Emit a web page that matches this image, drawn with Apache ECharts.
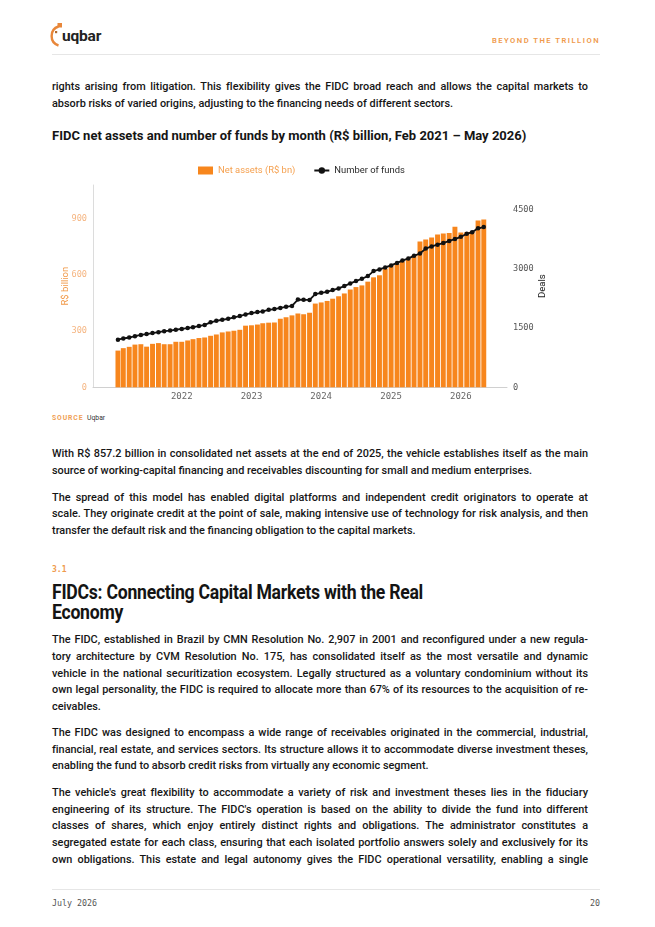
<!DOCTYPE html>
<html>
<head>
<meta charset="utf-8">
<script src="https://cdn.jsdelivr.net/npm/echarts@6/dist/echarts.min.js"></script>
<style>
  html, body { margin: 0; padding: 0; background: #fff; }
  body { width: 655px; height: 927px; position: relative; overflow: hidden; font-family: Roboto, "Liberation Sans", sans-serif; color: #161616; }
  .abs { position: absolute; }
  .p { position: absolute; left: 52px; width: 536px; font-size: 10.9px; font-weight: 500; }
  .p div { white-space: nowrap; text-align: justify; text-align-last: justify; }
  .p div.l { text-align: left; text-align-last: left; }
  .mono { font-family: "DejaVu Sans Mono", monospace; }
</style>
</head>
<body>
<!-- header -->
<svg class="abs" style="left:50px;top:21px" width="14" height="28" viewBox="0 0 14 28">
  <path d="M8.5 5.5 A10 10 0 0 0 8.5 24.5" fill="none" stroke="#e8873a" stroke-width="2.4"/>
  <rect x="7.5" y="2" width="4.5" height="4.5" fill="#e8873a"/>
  <rect x="5" y="10" width="2.2" height="2.2" fill="#b06a30"/>
</svg>
<div class="abs" style="left:62px;top:26px;font-size:15.5px;font-weight:700;line-height:20px;color:#222;letter-spacing:-0.2px">uqbar</div>
<div class="abs" style="right:55px;top:36px;font-size:7.6px;font-weight:600;letter-spacing:1.5px;color:#ef9a4c;line-height:10px">BEYOND THE TRILLION</div>
<div class="abs" style="left:52px;top:54px;width:548px;height:1px;background:#e6e6e6"></div>

<div class="p" style="top:79px;line-height:16.5px">
  <div>rights arising from litigation. This flexibility gives the FIDC broad reach and allows the capital markets to</div>
  <div class="l">absorb risks of varied origins, adjusting to the financing needs of different sectors.</div>
</div>

<div class="abs" style="left:52px;top:128px;font-size:13px;font-weight:700;line-height:16px;color:#151515">FIDC net assets and number of funds by month (R$ billion, Feb 2021 – May 2026)</div>

<div id="chart" class="abs" style="left:0;top:150px;width:655px;height:260px"></div>

<div class="abs" style="left:52px;top:414px;line-height:9px;font-size:6.8px">
  <span style="color:#f0a055;font-weight:700;letter-spacing:0.9px">SOURCE</span>
  <span style="color:#333;margin-left:2px">Uqbar</span>
</div>

<div class="p" style="top:445px;line-height:17px">
  <div>With R$ 857.2 billion in consolidated net assets at the end of 2025, the vehicle establishes itself as the main</div>
  <div class="l">source of working-capital financing and receivables discounting for small and medium enterprises.</div>
</div>

<div class="p" style="top:490px;line-height:16.3px">
  <div>The spread of this model has enabled digital platforms and independent credit originators to operate at</div>
  <div>scale. They originate credit at the point of sale, making intensive use of technology for risk analysis, and then</div>
  <div class="l">transfer the default risk and the financing obligation to the capital markets.</div>
</div>

<div class="abs mono" style="left:52px;top:565px;line-height:10px;font-size:8px;font-weight:700;color:#ef9a4c">3.1</div>
<div class="abs" style="left:52px;top:581.5px;line-height:20px;font-size:20.5px;font-weight:700;color:#141414;letter-spacing:-0.3px;transform:scaleX(0.86);transform-origin:0 0;white-space:nowrap">FIDCs: Connecting Capital Markets with the Real<br>Economy</div>

<div class="p" style="top:632.4px;line-height:16.65px">
  <div>The FIDC, established in Brazil by CMN Resolution No. 2,907 in 2001 and reconfigured under a new regula-</div>
  <div>tory architecture by CVM Resolution No. 175, has consolidated itself as the most versatile and dynamic</div>
  <div>vehicle in the national securitization ecosystem. Legally structured as a voluntary condominium without its</div>
  <div>own legal personality, the FIDC is required to allocate more than 67% of its resources to the acquisition of re-</div>
  <div class="l">ceivables.</div>
</div>

<div class="p" style="top:725px;line-height:16.7px">
  <div>The FIDC was designed to encompass a wide range of receivables originated in the commercial, industrial,</div>
  <div>financial, real estate, and services sectors. Its structure allows it to accommodate diverse investment theses,</div>
  <div class="l">enabling the fund to absorb credit risks from virtually any economic segment.</div>
</div>

<div class="p" style="top:785px;line-height:16.7px">
  <div>The vehicle's great flexibility to accommodate a variety of risk and investment theses lies in the fiduciary</div>
  <div>engineering of its structure. The FIDC's operation is based on the ability to divide the fund into different</div>
  <div>classes of shares, which enjoy entirely distinct rights and obligations. The administrator constitutes a</div>
  <div>segregated estate for each class, ensuring that each isolated portfolio answers solely and exclusively for its</div>
  <div>own obligations. This estate and legal autonomy gives the FIDC operational versatility, enabling a single</div>
</div>

<div class="abs" style="left:52px;top:889px;width:548px;height:1px;background:#e6e6e6"></div>
<div class="abs mono" style="left:52px;top:898px;line-height:10px;font-size:8.3px;color:#555">July 2026</div>
<div class="abs mono" style="right:55px;top:898px;line-height:10px;font-size:8.3px;color:#555">20</div>

<script>
// fit justified lines that are naturally wider than the column
document.querySelectorAll('.p div').forEach(el => {
  const s = document.createElement('span');
  s.textContent = el.textContent;
  s.style.whiteSpace = 'nowrap';
  el.textContent = '';
  el.appendChild(s);
  const w = s.getBoundingClientRect().width;
  el.textContent = s.textContent;
  if (w > 535) {
    const n = el.textContent.length;
    el.style.letterSpacing = (-(w - 535) / n).toFixed(3) + 'px';
  }
});

// ---- data ----
const months = [
  '2021-02','2021-03','2021-04','2021-05','2021-06','2021-07','2021-08','2021-09','2021-10','2021-11','2021-12',
  '2022-01','2022-02','2022-03','2022-04','2022-05','2022-06','2022-07','2022-08','2022-09','2022-10','2022-11','2022-12',
  '2023-01','2023-02','2023-03','2023-04','2023-05','2023-06','2023-07','2023-08','2023-09','2023-10','2023-11','2023-12',
  '2024-01','2024-02','2024-03','2024-04','2024-05','2024-06','2024-07','2024-08','2024-09','2024-10','2024-11','2024-12',
  '2025-01','2025-02','2025-03','2025-04','2025-05','2025-06','2025-07','2025-08','2025-09','2025-10','2025-11','2025-12',
  '2026-01','2026-02','2026-03','2026-04','2026-05'
];
const netAssets = [
  196,209,216,228,230,217,232,236,230,230,
  243,243,250,257,263,266,275,282,293,298,
  302,307,329,331,335,342,345,346,366,374,
  384,394,390,398,447,453,461,473,486,501,
  522,535,544,564,587,598,633,648,658,672,
  686,705,779,789,800,816,821,824,857.2,826,
  829,833,891,896
];
const numFunds = [
  1210,1240,1265,1300,1330,1352,1378,1400,1425,1440,
  1462,1484,1505,1527,1556,1586,1650,1690,1716,1741,
  1777,1810,1850,1886,1911,1929,1968,1987,2018,2044,
  2068,2230,2225,2220,2368,2400,2427,2470,2512,2571,
  2639,2698,2758,2825,2952,2995,3046,3096,3160,3220,
  3275,3340,3400,3525,3580,3625,3665,3718,3765,3823,
  3900,3940,4040,4070
];
const yearLabels = ['2022', '2023', '2024', '2025', '2026'];
const leftTicks = [0, 300, 600, 900];
const rightTicks = [0, 1500, 3000, 4500];
const seriesNames = ['Net assets (R$ bn)', 'Number of funds'];

function toTime(m) {
  const [y, mo] = m.split('-').map(Number);
  return Date.UTC(y, mo - 1, 1);
}
const barData = months.map((m, i) => [toTime(m), netAssets[i]]);
const lineData = months.map((m, i) => [toTime(m), numFunds[i]]);

const mono = '"DejaVu Sans Mono", monospace';
const chart = echarts.init(document.getElementById('chart'), null, { renderer: 'canvas' });
chart.setOption({
  useUTC: true,
  animation: false,
  legend: {
    left: 193, top: 11,
    itemWidth: 15, itemHeight: 8, itemGap: 18,
    textStyle: { fontFamily: 'Roboto, sans-serif', fontSize: 9.4 },
    data: [
      { name: seriesNames[0], icon: 'rect', textStyle: { color: '#f5a04f' } },
      { name: seriesNames[1], textStyle: { color: '#2a2a2a' } }
    ]
  },
  grid: { left: 93, right: 148, top: 35, bottom: 22.7 },
  xAxis: {
    type: 'time',
    min: Date.UTC(2020, 9, 8),
    max: Date.UTC(2026, 7, 16),
    minInterval: 365 * 86400000,
    maxInterval: 366 * 86400000,
    axisLine: { show: true, lineStyle: { color: '#d0d0d0', width: 1 } },
    axisTick: { show: false },
    splitLine: { show: false },
    axisLabel: {
      color: '#666', fontFamily: mono, fontSize: 9, margin: 5,
      showMinLabel: false, showMaxLabel: false,
      formatter: v => {
        const y = String(new Date(v).getUTCFullYear());
        return yearLabels.includes(y) ? y : '';
      }
    }
  },
  yAxis: [
    {
      type: 'value', min: 0, max: 1080, interval: leftTicks[1] - leftTicks[0],
      name: 'R$ billion', nameLocation: 'middle', nameGap: 22, nameMoveOverlap: false,
      nameTextStyle: { color: '#f19a4a', fontSize: 9.5, fontFamily: 'Roboto, sans-serif' },
      axisLine: { show: true, lineStyle: { color: '#dcdcdc', width: 1 } },
      axisTick: { show: false },
      splitLine: { show: false },
      axisLabel: { color: '#f5b581', fontFamily: mono, fontSize: 8.6, margin: 6, showMaxLabel: false,
        formatter: v => leftTicks.includes(v) ? String(v) : '' }
    },
    {
      type: 'value', min: 0, max: 5140, interval: rightTicks[1] - rightTicks[0],
      name: 'Deals', nameLocation: 'middle', nameGap: 31, nameMoveOverlap: false,
      nameTextStyle: { color: '#222', fontSize: 9.5, fontFamily: 'Roboto, sans-serif' },
      axisLine: { show: false },
      axisTick: { show: false },
      splitLine: { show: false },
      axisLabel: { color: '#555', fontFamily: mono, fontSize: 8.6, margin: 6, showMaxLabel: false,
        formatter: v => rightTicks.includes(v) ? String(v) : '' }
    }
  ],
  series: [
    {
      name: seriesNames[0], type: 'bar', yAxisIndex: 0,
      data: barData, barWidth: '92%',
      itemStyle: { color: '#f7861d' }
    },
    {
      name: seriesNames[1], type: 'line', yAxisIndex: 1,
      data: lineData, symbol: 'circle', symbolSize: 4.5,
      lineStyle: { color: '#111', width: 1.8 },
      itemStyle: { color: '#111' }, z: 5
    }
  ]
});
</script>
</body>
</html>
